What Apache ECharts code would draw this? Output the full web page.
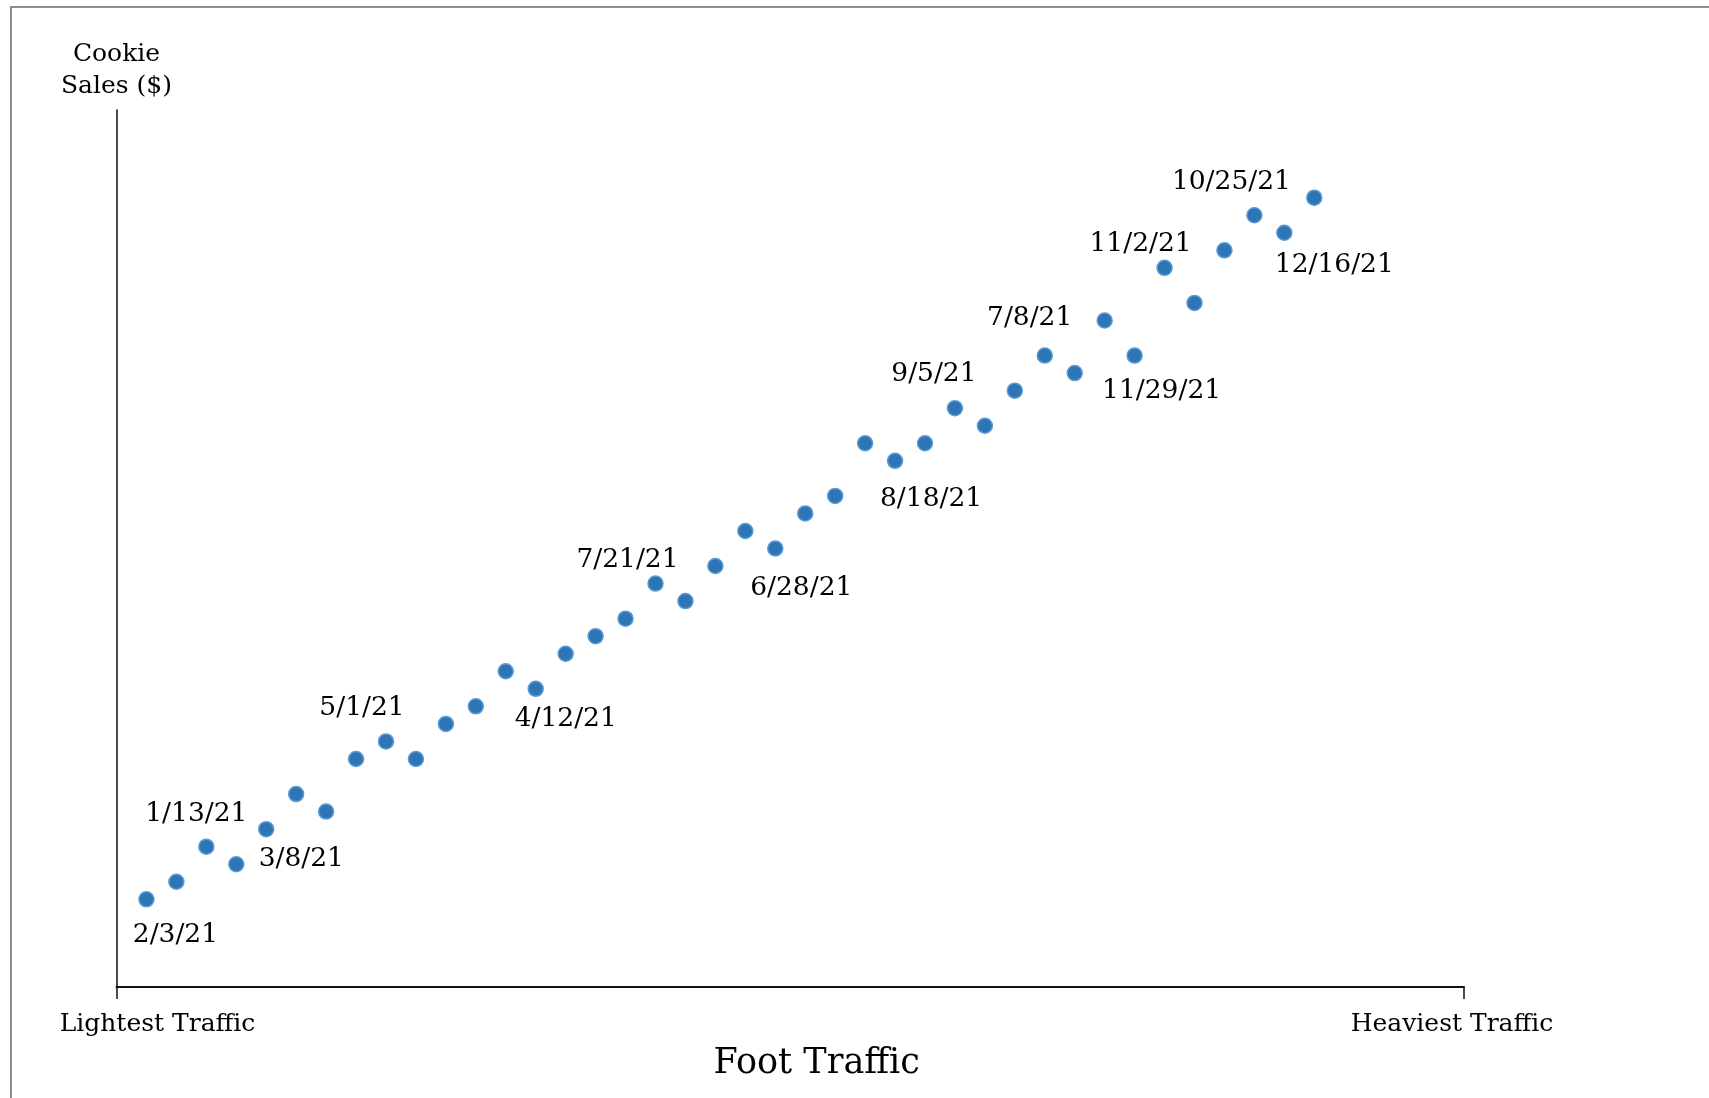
<!DOCTYPE html>
<html>
<head>
<meta charset="utf-8">
<script src="https://cdn.jsdelivr.net/npm/echarts@6/dist/echarts.min.js"></script>
<style>
  html, body { margin: 0; padding: 0; background: #fff; overflow: hidden; }
  #frame { position: absolute; left: 10px; top: 6px; width: 3000px; height: 3000px; border: 2px solid #8f8f8f; box-sizing: border-box; }
  #chart { position: absolute; left: 0; top: 0; width: 1709px; height: 1098px; }
</style>
</head>
<body>
<div id="frame"></div>
<div id="chart"></div>
<script>
// Foot traffic rank (x) and cookie sales level (y) for each day
const footTraffic = [1,2,3,4,5,6,7,8,9,10,11,12,13,14,15,16,17,18,19,20,21,22,23,24,25,26,27,28,29,30,31,32,33,34,35,36,37,38,39,40];
const cookieSales = [5,6,8,7,9,11,10,13,14,13,15,16,18,17,19,20,21,23,22,24,26,25,27,28,31,30,31,33,32,34,36,35,38,36,41,39,42,44,43,45];
// Date labels (index into the series above -> label text)
const labelIndex = [0, 2, 3, 8, 13, 17, 21, 25, 27, 32, 33, 34, 37, 38];
const labelText  = ['2/3/21','1/13/21','3/8/21','5/1/21','4/12/21','7/21/21','6/28/21','8/18/21','9/5/21','7/8/21','11/29/21','11/2/21','10/25/21','12/16/21'];
// Label offsets (style only)
const labelOffset = [[29,36],[-10,-33],[65,-5],[-24,-33],[30,30],[-28,-23],[26,40],[36,38],[-21,-34],[-75,-2],[27,36],[-24,-24],[-23,-33],[50,32]];
const axisEnds = ['Lightest Traffic', 'Heaviest Traffic'];

const FONT = 'DejaVu Serif';

const data = footTraffic.map((x, i) => {
  const k = labelIndex.indexOf(i);
  const item = { value: [x, cookieSales[i]] };
  if (k >= 0) {
    item.label = { show: true, formatter: labelText[k], offset: labelOffset[k] };
  }
  return item;
});

const chart = echarts.init(document.getElementById('chart'));
chart.setOption({
  animation: false,
  grid: { left: 116.5, right: 245, top: 110, bottom: 111, containLabel: false, outerBoundsMode: 'none' },
  xAxis: {
    type: 'value', min: 0, max: 45, interval: 45,
    name: 'Foot Traffic', nameLocation: 'middle', nameGap: 59,
    nameTextStyle: { fontFamily: FONT, fontSize: 35, color: '#000', padding: [0, 0, 0, 53] },
    axisLine: { show: true, lineStyle: { color: '#111', width: 2 } },
    axisTick: { show: true, length: 12, lineStyle: { color: '#111', width: 1.5 } },
    splitLine: { show: false },
    axisLabel: {
      margin: 24,
      formatter: v => v === 0 ? '{l|' + axisEnds[0] + '}' : '{r|' + axisEnds[1] + '}',
      rich: {
        l: { fontFamily: FONT, fontSize: 25, color: '#000', lineHeight: 26, padding: [0, 0, 0, 82] },
        r: { fontFamily: FONT, fontSize: 25, color: '#000', lineHeight: 26, padding: [0, 24, 0, 0] }
      }
    }
  },
  yAxis: {
    type: 'value', min: 0, max: 50,
    name: 'Cookie\nSales ($)', nameLocation: 'end', nameGap: 8,
    nameTextStyle: { fontFamily: FONT, fontSize: 25, color: '#000', lineHeight: 32, align: 'center' },
    axisLine: { show: true, lineStyle: { color: '#111', width: 1.5 } },
    axisTick: { show: false },
    axisLabel: { show: false },
    splitLine: { show: false }
  },
  series: [{
    type: 'scatter',
    symbolSize: 15,
    itemStyle: { color: '#2e75b6', borderColor: '#5b9bd5', borderWidth: 1.5, opacity: 1 },
    label: { show: false, position: 'inside', fontFamily: FONT, fontSize: 26.5, color: '#000' },
    data: data
  }]
});
</script>
</body>
</html>
